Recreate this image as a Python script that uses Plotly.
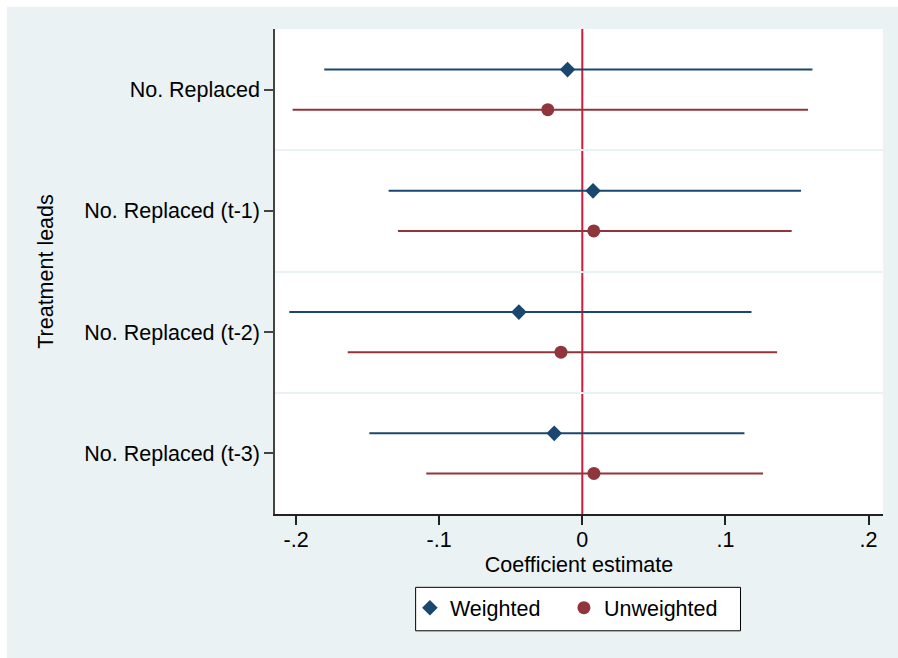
import plotly.graph_objects as go

categories = ["No. Replaced", "No. Replaced (t-1)", "No. Replaced (t-2)", "No. Replaced (t-3)"]
w_est = [-0.0103, 0.0075, -0.0443, -0.0196]
w_lo = [-0.1803, -0.1353, -0.2047, -0.1488]
w_hi = [0.1608, 0.1528, 0.1182, 0.1133]
u_est = [-0.0241, 0.0080, -0.0149, 0.0081]
u_lo = [-0.2024, -0.1288, -0.1639, -0.1090]
u_hi = [0.1577, 0.1463, 0.1361, 0.1263]
x_ticks = [-0.2, -0.1, 0, 0.1, 0.2]
x_ticktext = ["-.2", "-.1", "0", ".1", ".2"]

NAVY = "#1A476F"
MAROON = "#90353B"
BG = "#EAF2F3"
FONT = "Liberation Sans, Arial, Helvetica, sans-serif"
FS = 21.5
OFF = 0.165

pos = list(range(1, len(categories) + 1))

fig = go.Figure()
fig.add_trace(go.Scatter(
    x=w_est, y=[p - OFF for p in pos], mode="markers", name="Weighted",
    marker=dict(symbol="diamond", size=12, color=NAVY),
    error_x=dict(type="data", symmetric=False,
                 array=[h - e for h, e in zip(w_hi, w_est)],
                 arrayminus=[e - l for e, l in zip(w_est, w_lo)],
                 width=0, thickness=2, color=NAVY),
))
fig.add_trace(go.Scatter(
    x=u_est, y=[p + OFF for p in pos], mode="markers", name="Unweighted",
    marker=dict(symbol="circle", size=13, color=MAROON),
    error_x=dict(type="data", symmetric=False,
                 array=[h - e for h, e in zip(u_hi, u_est)],
                 arrayminus=[e - l for e, l in zip(u_est, u_lo)],
                 width=0, thickness=2, color=MAROON),
))

# red reference line at zero
fig.add_shape(type="line", xref="x", yref="paper", x0=0, x1=0, y0=0, y1=1,
              line=dict(color="#D7193B", width=2), layer="below")
# white outer border strips (top and left)
fig.add_shape(type="rect", xref="paper", yref="paper", x0=-0.5, x1=1.1,
              y0=1.046, y1=1.2, fillcolor="white", line_width=0, layer="below")
fig.add_shape(type="rect", xref="paper", yref="paper", x0=-0.5, x1=-0.4406,
              y0=-0.4, y1=1.2, fillcolor="white", line_width=0, layer="below")
# legend box
fig.add_shape(type="rect", xref="paper", yref="paper", x0=0.2313, x1=0.7656,
              y0=-0.2408, y1=-0.1512, fillcolor="white",
              line=dict(color="black", width=1), layer="below")

fig.update_layout(
    width=898, height=658,
    margin=dict(l=275, r=15, t=29, b=144),
    paper_bgcolor=BG, plot_bgcolor="white",
    font=dict(family=FONT, size=FS, color="black"),
    showlegend=True,
    legend=dict(orientation="h", x=0.2219, xanchor="left", y=-0.151, yanchor="top",
                bgcolor="rgba(0,0,0,0)", borderwidth=0, entrywidth=109,
                font=dict(size=FS)),
    xaxis=dict(range=[-0.2147, 0.2101], tickvals=x_ticks, ticktext=x_ticktext,
               showgrid=False, zeroline=False, showline=True, linecolor="#222",
               linewidth=1.5, ticks="outside", ticklen=9, tickcolor="#222", tickwidth=1.5,
               ticklabelstandoff=-4,
               title=dict(text="Coefficient estimate", standoff=6, font=dict(size=FS))),
    yaxis=dict(range=[4.5, 0.5], tickvals=pos, ticktext=categories,
               showgrid=False, zeroline=False, showline=True, linecolor="#444",
               linewidth=1.5, ticks="outside", ticklen=9, tickcolor="#444", tickwidth=1.5,
               minor=dict(tickvals=[1.5, 2.5, 3.5], showgrid=True, gridcolor=BG,
                          gridwidth=2, ticks=""),
               title=dict(text="Treatment leads", standoff=25, font=dict(size=FS))),
)

fig.write_html("out.html")
